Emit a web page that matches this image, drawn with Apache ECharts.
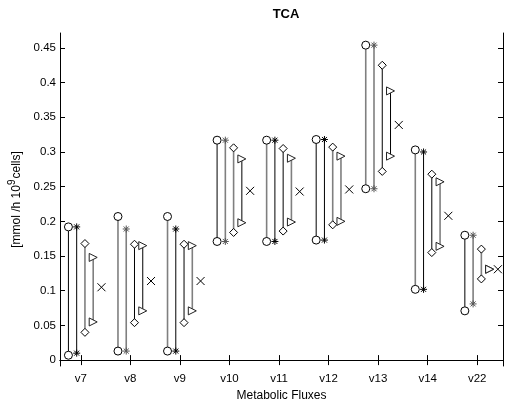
<!DOCTYPE html>
<html>
<head>
<meta charset="utf-8">
<script src="https://cdn.jsdelivr.net/npm/echarts@6/dist/echarts.min.js"></script>
<style>
  html, body { margin: 0; padding: 0; background: #fff; }
  #chart { width: 505px; height: 400px; }
</style>
</head>
<body>
<div id="chart"></div>
<script>
// Flux names along the x axis
const fluxes = ['v7', 'v8', 'v9', 'v10', 'v11', 'v12', 'v13', 'v14', 'v22'];

// Range estimates per flux (four methods), lower and upper bounds
const circleMin  = [0.007, 0.013, 0.013, 0.171, 0.171, 0.173, 0.247, 0.102, 0.071];
const circleMax  = [0.192, 0.207, 0.207, 0.317, 0.317, 0.318, 0.454, 0.303, 0.180];
const starMin    = [0.010, 0.013, 0.013, 0.171, 0.171, 0.173, 0.247, 0.102, 0.081];
const starMax    = [0.192, 0.189, 0.189, 0.317, 0.317, 0.318, 0.454, 0.300, 0.180];
const diamondMin = [0.040, 0.054, 0.054, 0.184, 0.186, 0.195, 0.272, 0.155, 0.117];
const diamondMax = [0.168, 0.167, 0.167, 0.306, 0.305, 0.307, 0.425, 0.268, 0.160];
const triMin     = [0.055, 0.071, 0.071, 0.198, 0.199, 0.200, 0.294, 0.164, 0.131];
const triMax     = [0.148, 0.165, 0.165, 0.290, 0.291, 0.294, 0.388, 0.257, 0.131];
// Point estimate per flux
const crossVal   = [0.105, 0.114, 0.114, 0.244, 0.243, 0.246, 0.339, 0.208, 0.131];

// y tick values
const yTicks = [0, 0.05, 0.1, 0.15, 0.2, 0.25, 0.3, 0.35, 0.4, 0.45];

// Line shade per segment (0 = black, 1 = grey)
const circleShade  = [0, 1, 1, 0, 1, 0, 1, 1, 0];
const starShade    = [0, 1, 0, 1, 0, 0, 1, 0, 1];
const diamondShade = [1, 0, 0, 1, 0, 1, 0, 0, 1];
const triShade     = [1, 0, 1, 0, 1, 1, 0, 1, 0];

const xIdx = fluxes.map((_, i) => i + 1);
const FONT = '"Liberation Sans", Arial, Helvetica, sans-serif';

function segments(lo, hi, shade, off) {
  return xIdx.map((x, i) => [x + off, lo[i], hi[i], shade[i]]);
}

function segSeries(lo, hi, shade, off) {
  return {
    type: 'custom',
    clip: false,
    z: 2,
    silent: true,
    data: segments(lo, hi, shade, off),
    renderItem: function (params, api) {
      const p0 = api.coord([api.value(0), api.value(1)]);
      const p1 = api.coord([api.value(0), api.value(2)]);
      const grey = api.value(3) === 1;
      return {
        type: 'line',
        shape: { x1: p0[0], y1: p0[1], x2: p1[0], y2: p1[1] },
        style: { stroke: grey ? '#7f7f7f' : '#000', lineWidth: grey ? 1.6 : 1 }
      };
    }
  };
}

function endPoints(lo, hi, off, shade, darkCol, greyCol) {
  const pts = [];
  xIdx.forEach((x, i) => {
    const col = shade[i] === 1 ? greyCol : darkCol;
    pts.push({ value: [x + off, lo[i]], itemStyle: { borderColor: col } });
    pts.push({ value: [x + off, hi[i]], itemStyle: { borderColor: col } });
  });
  return pts;
}

function markerSeries(data, symbol, size, fill) {
  return {
    type: 'scatter',
    z: 5,
    silent: true,
    symbol: symbol,
    symbolSize: size,
    itemStyle: { color: fill, borderColor: '#000', borderWidth: 1, opacity: 1 },
    data: data
  };
}

const OFF = [-0.25, -1 / 12, 1 / 12, 0.25, 5 / 12];

const asterisk = 'path://M0,-1L0,1M-1,0L1,0M-0.72,-0.72L0.72,0.72M-0.72,0.72L0.72,-0.72';
const crossPath = 'path://M-1,-1L1,1M-1,1L1,-1';
const triRight = 'path://M0,0L1,0.5L0,1Z';
const diamondPath = 'path://M0,-1L1,0L0,1L-1,0Z';

const chart = echarts.init(document.getElementById('chart'), null, { renderer: 'canvas' });

const axisCommon = {
  axisLine: { show: true, lineStyle: { color: '#000', width: 1 } },
  splitLine: { show: false }
};

chart.setOption({
  animation: false,
  backgroundColor: '#fff',
  title: {
    text: 'TCA',
    left: 281,
    textAlign: 'center',
    top: 3,
    textStyle: { fontFamily: FONT, fontSize: 13, fontWeight: 'bold', color: '#000' }
  },
  grid: { left: 60, right: 2, top: 33, bottom: 34, containLabel: false, outerBoundsMode: 'none' },
  xAxis: [
    Object.assign({}, axisCommon, {
      type: 'value',
      position: 'bottom',
      min: 0.58,
      max: 9.52,
      name: 'Metabolic Fluxes',
      nameLocation: 'middle',
      nameGap: 22,
      nameTextStyle: { fontFamily: FONT, fontSize: 12, color: '#000' },
      axisTick: { show: true, inside: true, length: 5, customValues: xIdx, lineStyle: { color: '#000' } },
      axisLabel: {
        show: true, customValues: xIdx, margin: 7,
        fontFamily: FONT, fontSize: 11.5, color: '#000',
        formatter: v => fluxes[Math.round(v) - 1] || ''
      }
    }),
    Object.assign({}, axisCommon, {
      type: 'value',
      position: 'top',
      min: 0.58,
      max: 9.52,
      axisTick: { show: true, inside: true, length: 5, customValues: xIdx, lineStyle: { color: '#000' } },
      axisLabel: { show: false }
    })
  ],
  yAxis: [
    Object.assign({}, axisCommon, {
      type: 'value',
      position: 'left',
      min: -0.0085,
      max: 0.4715,
      name: '{t|[mmol /h 10}{s|9}{t|cells]}',
      nameLocation: 'middle',
      nameRotate: 90,
      nameGap: 33,
      nameTextStyle: {
        rich: {
          t: { fontFamily: FONT, fontSize: 12, color: '#000' },
          s: { fontFamily: FONT, fontSize: 10, color: '#000', verticalAlign: 'bottom', padding: [0, 1, 8, 0] }
        }
      },
      axisTick: { show: true, inside: true, length: 5, customValues: yTicks, lineStyle: { color: '#000' } },
      axisLabel: {
        show: true, customValues: yTicks, margin: 4,
        fontFamily: FONT, fontSize: 11.5, color: '#000',
        formatter: v => String(Math.round(v * 100) / 100)
      }
    }),
    Object.assign({}, axisCommon, {
      type: 'value',
      position: 'right',
      min: -0.0085,
      max: 0.4715,
      axisTick: { show: true, inside: true, length: 5, customValues: yTicks, lineStyle: { color: '#000' } },
      axisLabel: { show: false }
    })
  ],
  series: [
    segSeries(circleMin, circleMax, circleShade, OFF[0]),
    segSeries(starMin, starMax, starShade, OFF[1]),
    segSeries(diamondMin, diamondMax, diamondShade, OFF[2]),
    segSeries(triMin, triMax, triShade, OFF[3]),
    markerSeries(endPoints(circleMin, circleMax, OFF[0], circleShade, '#000', '#000'), 'circle', 8, '#fff'),
    markerSeries(endPoints(starMin, starMax, OFF[1], starShade, '#000', '#555'), asterisk, 7, 'transparent'),
    markerSeries(endPoints(diamondMin, diamondMax, OFF[2], diamondShade, '#000', '#000'), diamondPath, 8, '#fff'),
    markerSeries(endPoints(triMin, triMax, OFF[3], triShade, '#222', '#222'), triRight, 8, '#fff'),
    markerSeries(xIdx.map((x, i) => [x + OFF[4], crossVal[i]]), crossPath, 8, 'transparent')
  ]
});
</script>
</body>
</html>
